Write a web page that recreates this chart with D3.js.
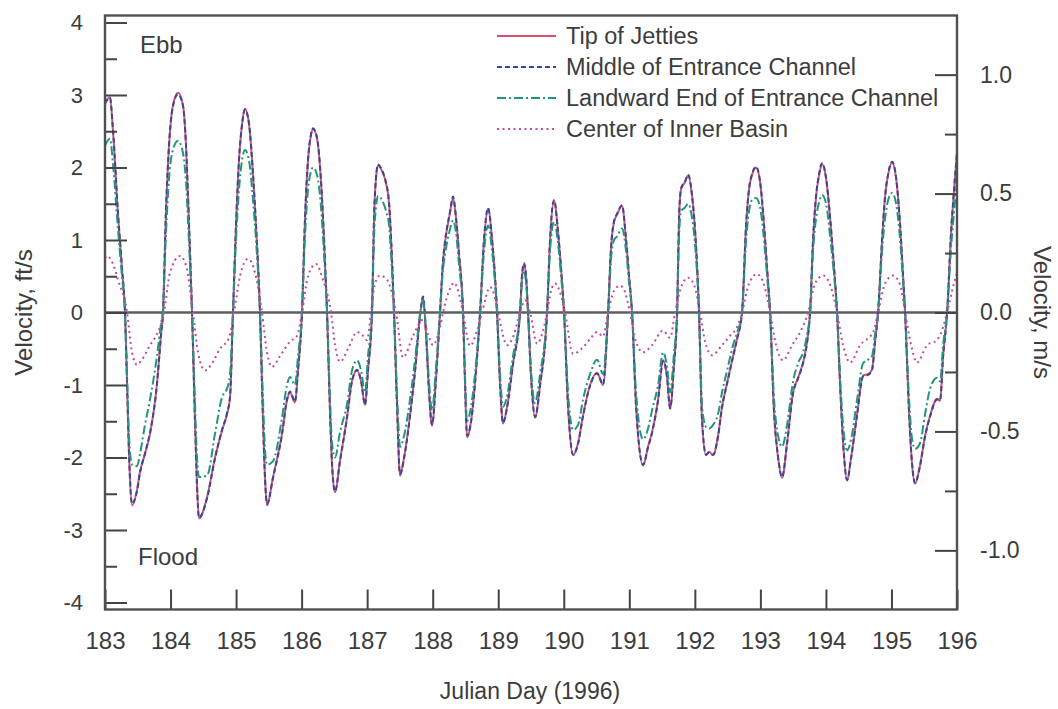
<!DOCTYPE html>
<html>
<head>
<meta charset="utf-8">
<script src="https://cdn.jsdelivr.net/npm/d3@7/dist/d3.min.js"></script>
<style>
  body { margin: 0; background: #fff; }
  svg { display: block; font-family: "Liberation Sans", Arial, sans-serif; }
  .lbl { fill: #3c3c3c; }
</style>
</head>
<body>
<svg id="chart" width="1058" height="709"></svg>
<script>
// sample times (Julian day) shared by the three entrance stations
var stationDays = [
  183.000,183.076,183.122,183.198,183.259,183.305,183.336,183.366,183.412,183.488,183.534,183.610,183.687,183.793,183.855,183.885,183.931,183.977,
  184.038,184.114,184.190,184.236,184.282,184.328,184.373,184.404,184.434,184.557,184.679,184.785,184.862,184.908,184.953,184.999,
  185.045,185.091,185.136,185.197,185.258,185.304,185.365,185.411,185.442,185.472,185.564,185.701,185.777,185.823,185.899,185.945,
  186.006,186.052,186.098,186.144,186.174,186.235,186.296,186.342,186.388,186.434,186.464,186.510,186.586,186.693,186.769,186.846,186.907,186.968,
  187.013,187.074,187.105,187.135,187.166,187.227,187.288,187.334,187.380,187.410,187.456,187.502,187.563,187.654,187.731,187.807,187.853,187.898,187.944,187.990,
  188.051,188.112,188.158,188.188,188.265,188.310,188.356,188.402,188.463,188.494,188.524,188.585,188.661,188.723,188.784,188.845,188.906,188.982,
  189.028,189.073,189.135,189.226,189.333,189.363,189.394,189.424,189.455,189.501,189.562,189.638,189.745,189.791,189.852,189.913,189.959,
  190.004,190.065,190.142,190.218,190.294,190.401,190.508,190.599,190.676,190.722,190.767,190.813,190.889,190.950,190.996,
  191.042,191.103,191.210,191.286,191.347,191.439,191.515,191.576,191.622,191.683,191.729,191.759,191.790,191.851,191.897,191.958,
  192.019,192.064,192.110,192.171,192.217,192.278,192.354,192.415,192.492,192.583,192.644,192.720,192.782,192.827,192.873,192.934,192.995,
  193.056,193.102,193.148,193.209,193.270,193.331,193.407,193.499,193.575,193.651,193.713,193.758,193.804,193.850,193.896,193.941,
  194.002,194.064,194.125,194.170,194.216,194.262,194.323,194.384,194.476,194.567,194.643,194.704,194.750,194.796,194.857,194.903,194.949,
  195.010,195.071,195.132,195.177,195.208,195.269,195.315,195.361,195.437,195.513,195.590,195.696,195.742,195.788,195.849,195.910,195.956,196.000
];

var tipOfJetties = [
  2.90,2.97,2.50,1.35,0.60,0.00,-0.97,-1.95,-2.66,-2.45,-2.20,-1.95,-1.67,-0.98,-0.30,0.00,1.40,2.30,
  2.86,3.03,2.86,2.30,1.20,0.00,-1.50,-2.40,-2.84,-2.55,-2.00,-1.63,-1.40,-1.17,0.00,1.20,
  2.10,2.60,2.81,2.60,1.90,1.20,0.00,-1.50,-2.30,-2.66,-2.27,-1.67,-1.21,-1.10,-1.24,-0.80,
  0.00,1.30,2.10,2.45,2.53,2.40,1.80,1.00,0.00,-1.40,-2.10,-2.48,-2.04,-1.44,-0.94,-0.80,-0.95,-1.28,
  -0.80,0.00,1.30,1.85,2.03,1.95,1.78,1.50,0.70,0.00,-1.30,-2.25,-2.00,-1.42,-0.80,-0.04,0.21,-0.30,-1.10,-1.56,
  -0.90,0.00,0.70,0.96,1.38,1.58,1.30,0.80,0.00,-1.00,-1.72,-1.50,-0.80,0.00,1.00,1.43,1.00,0.00,
  -1.00,-1.53,-1.30,-0.70,0.00,0.50,0.67,0.50,0.00,-0.90,-1.45,-1.00,0.00,1.00,1.54,1.10,0.60,
  0.00,-1.30,-1.97,-1.80,-1.42,-1.00,-0.83,-1.00,0.00,0.90,1.25,1.35,1.47,1.00,0.50,
  0.00,-1.30,-2.11,-1.85,-1.65,-1.20,-0.66,-0.90,-1.33,-0.70,0.00,1.30,1.70,1.80,1.89,1.60,
  0.90,0.00,-1.50,-1.97,-1.92,-1.97,-1.70,-1.30,-0.97,-0.60,-0.36,0.00,1.20,1.70,1.90,2.00,1.80,
  1.20,0.60,0.00,-1.40,-2.00,-2.28,-1.80,-1.10,-0.90,-0.69,-0.40,0.00,1.00,1.60,1.90,2.05,
  1.85,1.30,0.60,0.00,-1.00,-1.80,-2.32,-2.00,-1.40,-0.87,-0.85,-0.78,-0.40,0.00,1.00,1.60,1.90,
  2.07,1.85,1.20,0.50,0.00,-1.40,-2.10,-2.36,-2.10,-1.70,-1.42,-1.19,-1.22,-0.60,0.00,1.10,1.70,2.20
];

var middleOfChannel = [
  2.88,2.96,2.52,1.38,0.62,0.00,-0.95,-1.93,-2.64,-2.46,-2.21,-1.94,-1.66,-0.99,-0.31,0.00,1.42,2.31,
  2.85,3.01,2.85,2.31,1.22,0.00,-1.48,-2.38,-2.83,-2.56,-2.01,-1.62,-1.39,-1.16,0.00,1.21,
  2.11,2.59,2.80,2.61,1.92,1.21,0.00,-1.48,-2.29,-2.64,-2.28,-1.68,-1.20,-1.09,-1.23,-0.79,
  0.00,1.31,2.11,2.46,2.54,2.41,1.82,1.02,0.00,-1.38,-2.08,-2.47,-2.05,-1.45,-0.95,-0.79,-0.94,-1.27,
  -0.79,0.00,1.31,1.86,2.04,1.96,1.79,1.52,0.72,0.00,-1.28,-2.23,-2.01,-1.43,-0.81,-0.05,0.22,-0.29,-1.08,-1.55,
  -0.91,0.00,0.72,0.98,1.39,1.60,1.31,0.81,0.00,-0.98,-1.70,-1.51,-0.81,0.00,1.02,1.44,1.01,0.00,
  -0.98,-1.52,-1.31,-0.71,0.00,0.52,0.68,0.51,0.00,-0.88,-1.44,-1.01,0.00,1.02,1.55,1.11,0.61,
  0.00,-1.28,-1.96,-1.81,-1.43,-1.01,-0.84,-0.99,0.00,0.91,1.26,1.36,1.48,1.01,0.51,
  0.00,-1.28,-2.10,-1.86,-1.66,-1.21,-0.67,-0.89,-1.32,-0.71,0.00,1.31,1.71,1.81,1.90,1.61,
  0.91,0.00,-1.48,-1.96,-1.93,-1.96,-1.71,-1.31,-0.98,-0.61,-0.37,0.00,1.21,1.71,1.91,2.01,1.81,
  1.21,0.61,0.00,-1.38,-1.99,-2.27,-1.81,-1.11,-0.91,-0.70,-0.41,0.00,1.01,1.61,1.91,2.06,
  1.86,1.31,0.61,0.00,-0.98,-1.79,-2.31,-2.01,-1.41,-0.88,-0.86,-0.79,-0.41,0.00,1.01,1.61,1.91,
  2.08,1.86,1.21,0.51,0.00,-1.38,-2.09,-2.35,-2.11,-1.71,-1.43,-1.20,-1.21,-0.61,0.00,1.11,1.71,2.21
];

var landwardEnd = [
  2.30,2.40,2.05,1.15,0.50,0.00,-0.85,-1.70,-2.10,-2.12,-1.95,-1.55,-1.20,-0.60,-0.15,0.05,1.10,1.85,
  2.25,2.37,2.20,1.80,0.95,0.00,-1.25,-2.00,-2.27,-2.25,-1.67,-1.17,-1.05,-0.85,0.00,1.00,
  1.70,2.10,2.24,2.10,1.55,1.00,0.00,-1.20,-1.90,-2.10,-2.05,-1.45,-1.00,-0.89,-1.00,-0.60,
  0.00,1.05,1.70,1.95,2.00,1.90,1.45,0.80,0.00,-1.20,-1.80,-2.00,-1.65,-1.26,-0.80,-0.66,-0.80,-1.10,
  -0.60,0.00,1.05,1.45,1.61,1.55,1.40,1.20,0.55,0.00,-1.10,-1.85,-1.70,-1.20,-0.65,-0.02,0.15,-0.25,-0.95,-1.35,
  -0.75,0.00,0.60,0.80,1.15,1.27,1.10,0.65,0.00,-0.90,-1.50,-1.30,-0.70,0.00,0.85,1.20,0.85,0.00,
  -0.85,-1.30,-1.15,-0.60,0.00,0.42,0.55,0.42,0.00,-0.80,-1.25,-0.85,0.00,0.85,1.25,0.95,0.50,
  0.00,-1.10,-1.62,-1.55,-1.20,-0.85,-0.65,-0.85,0.00,0.75,1.00,1.05,1.16,0.85,0.42,
  0.00,-1.10,-1.75,-1.60,-1.35,-1.00,-0.55,-0.75,-1.10,-0.55,0.00,1.05,1.40,1.45,1.50,1.30,
  0.75,0.00,-1.30,-1.58,-1.60,-1.55,-1.40,-1.10,-0.80,-0.45,-0.28,0.00,1.00,1.40,1.55,1.58,1.45,
  1.00,0.50,0.00,-1.20,-1.70,-1.85,-1.55,-0.95,-0.70,-0.55,-0.30,0.00,0.85,1.30,1.52,1.62,
  1.50,1.05,0.50,0.00,-0.90,-1.55,-1.90,-1.75,-1.20,-0.70,-0.65,-0.60,-0.30,0.00,0.85,1.30,1.55,
  1.65,1.50,1.00,0.42,0.00,-1.20,-1.75,-1.88,-1.80,-1.40,-1.05,-0.90,-0.95,-0.45,0.00,0.90,1.40,1.80
];

// inner basin has its own sampling (it lags the channel)
var basinDays = [
  183.000,183.031,183.107,183.198,183.336,183.412,183.488,183.565,183.687,183.793,183.900,183.992,
  184.145,184.236,184.343,184.419,184.526,184.633,184.755,184.892,184.969,185.060,185.182,185.289,185.396,185.472,185.548,185.671,185.823,185.930,
  186.006,186.098,186.220,186.327,186.449,186.510,186.586,186.708,186.846,186.937,186.998,187.059,187.120,187.197,187.304,187.441,187.548,187.701,187.853,187.929,
  188.005,188.112,188.158,188.265,188.326,188.387,188.463,188.570,188.677,188.753,188.875,188.936,188.997,
  189.135,189.242,189.333,189.409,189.486,189.592,189.684,189.745,189.806,189.867,189.943,190.020,
  190.142,190.294,190.416,190.508,190.599,190.676,190.767,190.859,190.935,191.011,191.103,191.210,191.347,191.515,191.622,191.698,191.790,191.897,191.988,
  192.080,192.156,192.263,192.415,192.537,192.644,192.720,192.827,192.949,193.056,193.148,193.239,193.346,193.484,193.606,193.728,193.835,193.957,
  194.064,194.170,194.262,194.369,194.522,194.720,194.796,194.903,195.025,195.132,195.208,195.300,195.391,195.544,195.696,195.788,195.849,195.925,196.000
];

var innerBasin = [
  0.75,0.78,0.70,0.45,0.00,-0.55,-0.72,-0.65,-0.45,-0.30,0.00,0.55,
  0.78,0.65,0.00,-0.55,-0.80,-0.70,-0.50,-0.35,0.00,0.50,0.74,0.55,0.00,-0.55,-0.75,-0.60,-0.40,-0.32,
  0.00,0.50,0.67,0.45,0.00,-0.45,-0.68,-0.50,-0.27,-0.32,-0.38,0.00,0.40,0.51,0.45,0.00,-0.62,-0.32,-0.10,-0.30,
  -0.45,-0.20,0.00,0.33,0.41,0.30,0.00,-0.46,-0.25,0.00,0.35,0.25,0.00,
  -0.45,-0.30,0.00,0.17,0.00,-0.43,-0.25,0.00,0.30,0.40,0.28,0.00,
  -0.57,-0.48,-0.35,-0.27,-0.33,0.00,0.30,0.37,0.28,0.00,-0.40,-0.55,-0.45,-0.25,-0.35,0.00,0.35,0.48,0.38,
  0.00,-0.40,-0.59,-0.45,-0.32,-0.20,0.00,0.40,0.53,0.38,0.00,-0.45,-0.66,-0.45,-0.27,0.00,0.40,0.51,
  0.38,0.00,-0.45,-0.69,-0.45,-0.27,0.00,0.40,0.51,0.38,0.00,-0.45,-0.69,-0.45,-0.38,-0.20,0.00,0.30,0.55
];

var seriesNames = ["Tip of Jetties", "Middle of Entrance Channel", "Landward End of Entrance Channel", "Center of Inner Basin"];
var ftTicks = [-4, -3, -2, -1, 0, 1, 2, 3, 4];
var ftMinor = [-3.5, -2.5, -1.5, -0.5, 0.5, 1.5, 2.5, 3.5];
var msTicks = [-1.0, -0.5, 0.0, 0.5, 1.0];
var msMinor = [-0.75, -0.25, 0.25, 0.75];
var dayTicks = [183, 184, 185, 186, 187, 188, 189, 190, 191, 192, 193, 194, 195, 196];

var FT_PER_M = 3.2808;

var svg = d3.select("#chart"),
    plotLeft = 105, plotRight = 957, plotTop = 22.5, plotBottom = 602.5,
    pad = 7;

var x = d3.scaleLinear().domain([183, 196]).range([plotLeft, plotRight]);
var y = d3.scaleLinear().domain([-4, 4]).range([plotBottom, plotTop]);
var yM = d3.scaleLinear().domain([-4 / FT_PER_M, 4 / FT_PER_M]).range([plotBottom, plotTop]);

var frameTop = plotTop - pad, frameBottom = plotBottom + pad;

svg.append("defs").append("clipPath").attr("id", "plot-clip")
  .append("rect")
    .attr("x", plotLeft).attr("y", frameTop)
    .attr("width", plotRight - plotLeft).attr("height", frameBottom - frameTop);

// zero line
svg.append("line")
    .attr("x1", plotLeft).attr("x2", plotRight)
    .attr("y1", y(0)).attr("y2", y(0))
    .attr("stroke", "#5e5e5e").attr("stroke-width", 2.6);

var styles = [
  {color: "#d8506c", dash: null, width: 2},
  {color: "#34489a", dash: "5,3", width: 2},
  {color: "#23957a", dash: "9,3,2,3", width: 2},
  {color: "#c04c9c", dash: "2,3.5", width: 2}
];

var lineGen = d3.line()
    .x(function(d) { return x(d[0]); })
    .y(function(d) { return y(d[1]); })
    .curve(d3.curveMonotoneX);

var series = [
  d3.zip(stationDays, tipOfJetties),
  d3.zip(stationDays, middleOfChannel),
  d3.zip(stationDays, landwardEnd),
  d3.zip(basinDays, innerBasin)
];

var plot = svg.append("g").attr("clip-path", "url(#plot-clip)");
series.forEach(function(s, i) {
  plot.append("path")
      .datum(s)
      .attr("fill", "none")
      .attr("stroke", styles[i].color)
      .attr("stroke-width", styles[i].width)
      .attr("stroke-dasharray", styles[i].dash)
      .attr("d", lineGen);
});

// plain hyphen for negatives, as in the original figure
function ftFmt(d) { return String(d); }
function msFmt(d) { return d.toFixed(1); }

// axes, ticks pointing inward
function styleAxis(size) {
  return function(g) {
    g.select(".domain").remove();
    g.selectAll(".tick line").attr("stroke", "#444").attr("stroke-width", 2);
    g.selectAll(".tick text").attr("class", "lbl").attr("fill", null).style("font-size", size + "px");
  };
}

svg.append("g")
    .attr("transform", "translate(" + plotLeft + ",0)")
    .call(d3.axisLeft(y).tickValues(ftTicks).tickSize(-22).tickPadding(22).tickFormat(ftFmt))
    .call(styleAxis(22));
svg.append("g")
    .attr("transform", "translate(" + plotLeft + ",0)")
    .call(d3.axisLeft(y).tickValues(ftMinor).tickSize(-12).tickFormat(""))
    .call(styleAxis(22));

svg.append("g")
    .attr("transform", "translate(" + plotRight + ",0)")
    .call(d3.axisRight(yM).tickValues(msTicks).tickSize(-22).tickPadding(23).tickFormat(msFmt))
    .call(styleAxis(23));
svg.append("g")
    .attr("transform", "translate(" + plotRight + ",0)")
    .call(d3.axisRight(yM).tickValues(msMinor).tickSize(-12).tickFormat(""))
    .call(styleAxis(23));

svg.append("g")
    .attr("transform", "translate(0," + frameBottom + ")")
    .call(d3.axisBottom(x).tickValues(dayTicks).tickSize(-20).tickPadding(22).tickFormat(ftFmt))
    .call(styleAxis(24));

// frame
svg.append("rect")
    .attr("x", plotLeft).attr("y", frameTop)
    .attr("width", plotRight - plotLeft).attr("height", frameBottom - frameTop)
    .attr("fill", "none").attr("stroke", "#505050").attr("stroke-width", 2.4);

// labels
svg.append("text").attr("class", "lbl").style("font-size", "24px")
    .attr("transform", "translate(32," + y(0) + ") rotate(-90)")
    .attr("text-anchor", "middle").text("Velocity, ft/s");
svg.append("text").attr("class", "lbl").style("font-size", "24px")
    .attr("transform", "translate(1034," + y(0) + ") rotate(90)")
    .attr("text-anchor", "middle").text("Velocity, m/s");
svg.append("text").attr("class", "lbl").style("font-size", "23px")
    .attr("x", 530).attr("y", 699)
    .attr("text-anchor", "middle").text("Julian Day (1996)");
svg.append("text").attr("class", "lbl").style("font-size", "24px").attr("x", 140).attr("y", 53).text("Ebb");
svg.append("text").attr("class", "lbl").style("font-size", "24px").attr("x", 138).attr("y", 565).text("Flood");

// legend
var legend = svg.append("g").attr("transform", "translate(497,36)");
seriesNames.forEach(function(name, i) {
  var row = legend.append("g").attr("transform", "translate(0," + (i * 31) + ")");
  row.append("line")
      .attr("x1", 0).attr("x2", 59)
      .attr("stroke", styles[i].color)
      .attr("stroke-width", 1.8)
      .attr("stroke-dasharray", styles[i].dash);
  row.append("text").attr("class", "lbl").style("font-size", "23.5px")
      .attr("x", 69).attr("dy", "0.35em").text(name);
});
</script>
</body>
</html>
